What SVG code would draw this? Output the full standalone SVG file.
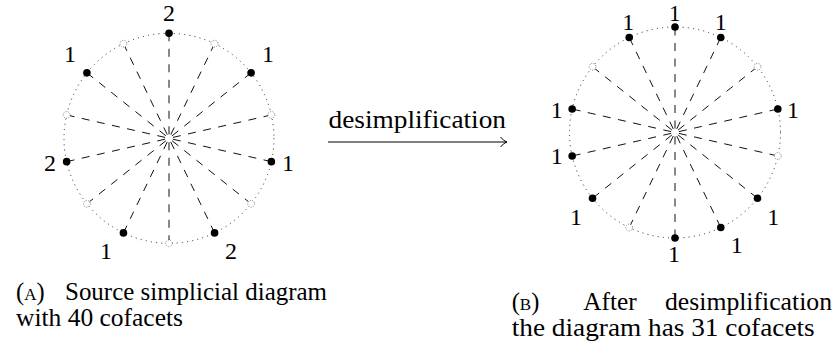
<svg xmlns="http://www.w3.org/2000/svg" width="835" height="350" viewBox="0 0 835 350">
<style>
text{font-family:"Liberation Serif","Times New Roman",serif;fill:#000}
.lbl{font-size:24px;text-anchor:middle}
.cap{font-size:24.5px}
.sc{font-size:17px}
.rim{fill:none;stroke:#111;stroke-width:0.9;stroke-dasharray:1 4.2}
.spoke{stroke:#111;stroke-width:1;stroke-dasharray:8 7.5;stroke-dashoffset:11.5}
.dot{fill:#000}
.open{fill:#fff;stroke:#333;stroke-width:0.7;stroke-dasharray:0.9 1.5}
.arr{fill:none;stroke:#000;stroke-width:1}
</style>
<rect width="835" height="350" fill="#fff"/>

<!-- rims -->
<circle class="rim" cx="169" cy="138.3" r="105"/>
<circle class="rim" cx="675" cy="132.5" r="105.5"/>

<g id="connectors">
 <g id="spokes-left">
  <line class="spoke" x1="169" y1="138.3" x2="169" y2="33.3"/>
  <line class="spoke" x1="169" y1="138.3" x2="214.56" y2="43.69"/>
  <line class="spoke" x1="169" y1="138.3" x2="251.09" y2="72.83"/>
  <line class="spoke" x1="169" y1="138.3" x2="271.36" y2="114.94"/>
  <line class="spoke" x1="169" y1="138.3" x2="271.36" y2="161.66"/>
  <line class="spoke" x1="169" y1="138.3" x2="251.09" y2="203.77"/>
  <line class="spoke" x1="169" y1="138.3" x2="214.56" y2="232.91"/>
  <line class="spoke" x1="169" y1="138.3" x2="169" y2="243.3"/>
  <line class="spoke" x1="169" y1="138.3" x2="123.44" y2="232.91"/>
  <line class="spoke" x1="169" y1="138.3" x2="86.91" y2="203.77"/>
  <line class="spoke" x1="169" y1="138.3" x2="66.64" y2="161.66"/>
  <line class="spoke" x1="169" y1="138.3" x2="66.64" y2="114.94"/>
  <line class="spoke" x1="169" y1="138.3" x2="86.91" y2="72.83"/>
  <line class="spoke" x1="169" y1="138.3" x2="123.44" y2="43.69"/>
 </g>
 <g id="spokes-right">
  <line class="spoke" x1="675" y1="132.5" x2="675" y2="27"/>
  <line class="spoke" x1="675" y1="132.5" x2="720.78" y2="37.44"/>
  <line class="spoke" x1="675" y1="132.5" x2="757.48" y2="66.72"/>
  <line class="spoke" x1="675" y1="132.5" x2="777.85" y2="109.03"/>
  <line class="spoke" x1="675" y1="132.5" x2="777.85" y2="155.97"/>
  <line class="spoke" x1="675" y1="132.5" x2="757.48" y2="198.28"/>
  <line class="spoke" x1="675" y1="132.5" x2="720.78" y2="227.56"/>
  <line class="spoke" x1="675" y1="132.5" x2="675" y2="238"/>
  <line class="spoke" x1="675" y1="132.5" x2="629.22" y2="227.56"/>
  <line class="spoke" x1="675" y1="132.5" x2="592.52" y2="198.28"/>
  <line class="spoke" x1="675" y1="132.5" x2="572.15" y2="155.97"/>
  <line class="spoke" x1="675" y1="132.5" x2="572.15" y2="109.03"/>
  <line class="spoke" x1="675" y1="132.5" x2="592.52" y2="66.72"/>
  <line class="spoke" x1="675" y1="132.5" x2="629.22" y2="37.44"/>
 </g>
 <g id="arrow">
  <line class="arr" x1="328" y1="142" x2="506.5" y2="142"/>
  <path class="arr" d="M500.5,137 Q503.5,141 507,142 Q503.5,143 500.5,147"/>
 </g>
</g>

<!-- left diagram nodes -->
<g id="L0"><circle class="dot" cx="169" cy="33.3" r="3.8"/><text class="lbl" x="169" y="21">2</text></g>
<g id="L1"><circle class="open" cx="214.56" cy="43.69" r="3.4"/></g>
<g id="L2"><circle class="dot" cx="251.09" cy="72.83" r="3.8"/><text class="lbl" x="268" y="61.7">1</text></g>
<g id="L3"><circle class="open" cx="271.36" cy="114.94" r="3.4"/></g>
<g id="L4"><circle class="dot" cx="271.36" cy="161.66" r="3.8"/><text class="lbl" x="288" y="170.7">1</text></g>
<g id="L5"><circle class="open" cx="251.09" cy="203.77" r="3.4"/></g>
<g id="L6"><circle class="dot" cx="214.56" cy="232.91" r="3.8"/><text class="lbl" x="231" y="259.3">2</text></g>
<g id="L7"><circle class="open" cx="169" cy="243.3" r="3.4"/></g>
<g id="L8"><circle class="dot" cx="123.44" cy="232.91" r="3.8"/><text class="lbl" x="106" y="259.3">1</text></g>
<g id="L9"><circle class="open" cx="86.91" cy="203.77" r="3.4"/></g>
<g id="L10"><circle class="dot" cx="66.64" cy="161.66" r="3.8"/><text class="lbl" x="50" y="170.7">2</text></g>
<g id="L11"><circle class="open" cx="66.64" cy="114.94" r="3.4"/></g>
<g id="L12"><circle class="dot" cx="86.91" cy="72.83" r="3.8"/><text class="lbl" x="70" y="61.7">1</text></g>
<g id="L13"><circle class="open" cx="123.44" cy="43.69" r="3.4"/></g>

<!-- right diagram nodes -->
<g id="R0"><circle class="dot" cx="675" cy="27" r="3.8"/><text class="lbl" x="674.7" y="20.5" style="font-size:23px">1</text></g>
<g id="R1"><circle class="dot" cx="720.78" cy="37.44" r="3.8"/><text class="lbl" x="720.7" y="29.7">1</text></g>
<g id="R2"><circle class="open" cx="757.48" cy="66.72" r="3.4"/></g>
<g id="R3"><circle class="dot" cx="777.85" cy="109.03" r="3.8"/><text class="lbl" x="793" y="118">1</text></g>
<g id="R4"><circle class="open" cx="777.85" cy="155.97" r="3.4"/></g>
<g id="R5"><circle class="dot" cx="757.48" cy="198.28" r="3.8"/><text class="lbl" x="773.3" y="225">1</text></g>
<g id="R6"><circle class="dot" cx="720.78" cy="227.56" r="3.8"/><text class="lbl" x="736.7" y="253">1</text></g>
<g id="R7"><circle class="dot" cx="675" cy="238" r="3.8"/><text class="lbl" x="674" y="262">1</text></g>
<g id="R8"><circle class="open" cx="629.22" cy="227.56" r="3.4"/></g>
<g id="R9"><circle class="dot" cx="592.52" cy="198.28" r="3.8"/><text class="lbl" x="576" y="225">1</text></g>
<g id="R10"><circle class="dot" cx="572.15" cy="155.97" r="3.8"/><text class="lbl" x="556.7" y="164">1</text></g>
<g id="R11"><circle class="dot" cx="572.15" cy="109.03" r="3.8"/><text class="lbl" x="556.7" y="118">1</text></g>
<g id="R12"><circle class="open" cx="592.52" cy="66.72" r="3.4"/></g>
<g id="R13"><circle class="dot" cx="629.22" cy="37.44" r="3.8"/><text class="lbl" x="628.3" y="29.7">1</text></g>

<!-- arrow label -->
<g id="arrow-label"><text class="cap" x="328.5" y="128.3" textLength="177.5" lengthAdjust="spacingAndGlyphs">desimplification</text></g>

<!-- captions -->
<g id="caption-a">
 <text class="cap" x="16" y="300">(<tspan class="sc">A</tspan>)</text>
 <text class="cap" x="65" y="300" textLength="262" lengthAdjust="spacingAndGlyphs">Source simplicial diagram</text>
 <text class="cap" x="16" y="326" textLength="167" lengthAdjust="spacingAndGlyphs">with 40 cofacets</text>
</g>
<g id="caption-b">
 <text class="cap" x="511.7" y="310">(<tspan class="sc">B</tspan>)</text>
 <text class="cap" x="583.3" y="310" textLength="53.5" lengthAdjust="spacingAndGlyphs">After</text>
 <text class="cap" x="665" y="310" textLength="167" lengthAdjust="spacingAndGlyphs">desimplification</text>
 <text class="cap" x="511.7" y="336" textLength="303" lengthAdjust="spacingAndGlyphs">the diagram has 31 cofacets</text>
</g>
</svg>
